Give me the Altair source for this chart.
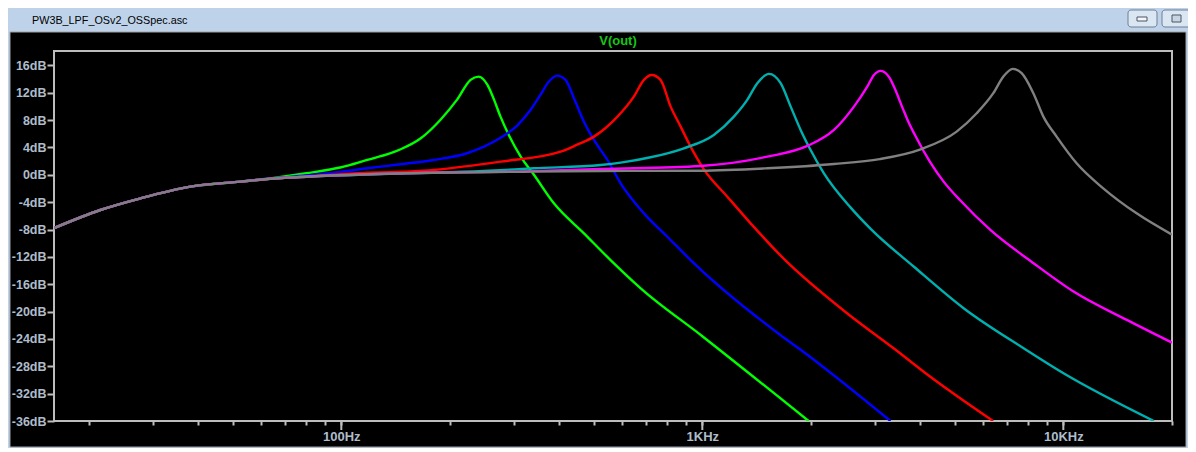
import altair as alt
import pandas as pd

# ---- text ----
WINDOW_TITLE = "PW3B_LPF_OSv2_OSSpec.asc"
PLOT_TITLE = "V(out)"

# ---- axis ticks ----
Y_TICKS = [-36, -32, -28, -24, -20, -16, -12, -8, -4, 0, 4, 8, 12, 16]
X_TICKS = [20, 30, 40, 50, 60, 70, 80, 90,
           100, 200, 300, 400, 500, 600, 700, 800, 900,
           1000, 2000, 3000, 4000, 5000, 6000, 7000, 8000, 9000,
           10000, 20000]
X_MAJOR = [100, 1000, 10000]

# ---- shared low-frequency part (all traces overlap) ----
LOW_F = [16, 21.5, 27.8, 38.2, 52.6]
LOW_DB = [-7.8, -5.15, -3.44, -1.74, -1.0]

# ---- traces (frequency in Hz, level in dB) ----
GREEN_F = [65, 80, 100, 118, 137, 146, 166, 188, 209, 228, 240, 254, 265, 276,
           291, 314, 342, 388, 470, 557, 675, 1000, 1970]
GREEN_DB = [-0.45, 0.22, 1.1, 2.17, 3.15, 3.73, 5.34, 8.02, 10.95, 13.88, 14.36,
            13.15, 10.95, 8.5, 5.83, 2.65, -0.03, -4.17, -8.56, -12.47, -16.6,
            -23.6, -36]

BLUE_F = [65, 80, 100, 118, 146, 180, 223, 276, 307, 334.5, 356, 376, 396, 418,
          441, 470, 501, 546, 594, 689, 800, 928, 1648, 1852, 3320]
BLUE_DB = [-0.5, -0.1, 0.45, 0.95, 1.55, 2.17, 3.15, 5.4, 7.2, 9.5, 11.68,
           13.63, 14.5, 13.88, 11.2, 7.77, 5.09, 2.17, -1.24, -5.64, -9.06,
           -12.47, -23.45, -25.4, -36]

RED_F = [65, 80, 100, 180, 276, 405, 450, 501, 582, 646, 689, 724, 766, 817,
         871, 928, 1010, 1173, 1361, 1683, 2522, 3394, 4290, 6390]
RED_DB = [-0.55, -0.25, 0.1, 0.7, 1.92, 3.38, 4.4, 5.58, 8.5, 11.43, 13.88,
          14.6, 13.88, 9.97, 7.04, 4.11, 0.8, -3.2, -7.1, -12.3, -20.28, -25.4,
          -29.56, -36]

CYAN_F = [65, 80, 150, 248, 342, 523, 594, 719, 889, 1076, 1223, 1332, 1420,
          1530, 1648, 1757, 1872, 1995, 2172, 2576, 2926, 3857, 5305, 7780,
          10040, 17820]
CYAN_DB = [-0.55, -0.28, 0.2, 0.55, 0.95, 1.43, 1.77, 2.56, 3.88, 5.83, 8.5,
           10.95, 13.39, 14.76, 13.39, 9.97, 6.56, 3.63, 0.22, -4.8, -7.9,
           -13.45, -19.55, -25.4, -29.06, -36]

MAGENTA_F = [65, 80, 150, 320, 523, 989, 1514, 1954, 2315, 2630, 2864, 2989,
             3119, 3309, 3394, 3605, 3698, 3924, 4272, 4661, 5171, 6290, 8287,
             10700, 15040, 20000]
MAGENTA_DB = [-0.55, -0.28, 0.22, 0.5, 0.85, 1.29, 2.65, 4.22, 6.56, 9.97, 12.9,
              14.6, 15.2, 14.1, 12.9, 9.49, 8.1, 5.34, 1.9, -1.0, -3.69, -8.1,
              -12.96, -17.11, -21.26, -24.55]

GREY_F = [65, 80, 152, 320, 523, 989, 1514, 2315, 3100, 4025, 5064, 5754, 6398,
          6823, 7238, 7666, 8260, 8805, 9582, 10885, 12900, 15960, 20000]
GREY_DB = [-0.55, -0.28, 0.22, 0.45, 0.56, 0.6, 0.95, 1.58, 2.3, 3.73, 6.31,
           9.0, 11.93, 14.36, 15.49, 14.86, 11.93, 8.5, 5.58, 1.68, -1.98,
           -5.64, -8.75]

TRACE_NAMES = ["t1", "t2", "t3", "t4", "t5", "t6"]
TRACE_COLORS = ["#00ff00", "#0000ff", "#ff0000", "#00b0b0", "#ff00ff", "#808080"]
TRACES = [(GREEN_F, GREEN_DB), (BLUE_F, BLUE_DB), (RED_F, RED_DB),
          (CYAN_F, CYAN_DB), (MAGENTA_F, MAGENTA_DB), (GREY_F, GREY_DB)]

rows = []
for name, (fs, dbs) in zip(TRACE_NAMES, TRACES):
    for f, d in zip(LOW_F + fs, LOW_DB + dbs):
        rows.append({"trace": name, "f": f, "db": d})
df = pd.DataFrame(rows)
major_df = pd.DataFrame({"f": X_MAJOR})
one = pd.DataFrame({"k": [0]})

W, H = 1118, 370
AXIS_GREY = "#bdbdbd"
LABEL_COL = "#aebccb"
FONT = "Liberation Sans"

x_scale = alt.Scale(type="log", domain=[16, 20000], nice=False)
y_scale = alt.Scale(domain=[-36, 18.1], nice=False, zero=False)

x_label_expr = ("datum.value == 100 ? '100Hz' : datum.value == 1000 ? '1KHz' : "
                "datum.value == 10000 ? '10KHz' : ''")

x_axis = alt.Axis(values=X_TICKS, labelExpr=x_label_expr, domain=False,
                  grid=False, tickSize=4, tickWidth=2, tickColor=AXIS_GREY,
                  labelColor=LABEL_COL, labelFont=FONT, labelFontSize=13,
                  labelFontWeight="bold", labelPadding=5, labelOverlap=False,
                  labelFlush=False, zindex=1)
y_axis = alt.Axis(values=Y_TICKS, labelExpr="datum.value + 'dB'", domain=False,
                  grid=False, tickSize=7, tickWidth=2, tickColor=AXIS_GREY,
                  labelColor=LABEL_COL, labelFont=FONT, labelFontSize=12.5,
                  labelFontWeight="bold", labelPadding=1, labelOverlap=False,
                  labelFlush=False, zindex=1)

panel = alt.Chart(one).mark_rect(color="#000000", stroke="#a0a0a0", strokeWidth=1).encode(
    x=alt.value(-44), x2=alt.value(W + 14), y=alt.value(-19), y2=alt.value(H + 26))

win_title = alt.Chart(one).mark_text(
    text=WINDOW_TITLE, align="left", baseline="alphabetic", font=FONT,
    fontSize=10.8, color="#000000").encode(x=alt.value(-22), y=alt.value(-27))

btn1 = alt.Chart(one).mark_rect(color="#dbe6f3", stroke="#6f7f95", strokeWidth=1,
                                cornerRadius=3).encode(
    x=alt.value(W - 44), x2=alt.value(W - 15), y=alt.value(-41), y2=alt.value(-24))
btn1_glyph = alt.Chart(one).mark_rect(color="#f4f6f9", stroke="#4a5566", strokeWidth=1).encode(
    x=alt.value(W - 35), x2=alt.value(W - 25), y=alt.value(-34), y2=alt.value(-30))
btn2 = alt.Chart(one).mark_rect(color="#dbe6f3", stroke="#6f7f95", strokeWidth=1,
                                cornerRadius=3).encode(
    x=alt.value(W - 10), x2=alt.value(W + 20), y=alt.value(-41), y2=alt.value(-24))
btn2_glyph = alt.Chart(one).mark_rect(color="#c8d4e2", stroke="#4a5566", strokeWidth=1).encode(
    x=alt.value(W), x2=alt.value(W + 9), y=alt.value(-36), y2=alt.value(-29))

frame = alt.Chart(one).mark_rect(filled=False, stroke=AXIS_GREY, strokeWidth=2).encode(
    x=alt.value(0), x2=alt.value(W), y=alt.value(0), y2=alt.value(H))

lines = alt.Chart(df).mark_line(strokeWidth=2.4, clip=True, interpolate="monotone").encode(
    x=alt.X("f:Q", scale=x_scale, title="", axis=x_axis),
    y=alt.Y("db:Q", scale=y_scale, title="", axis=y_axis),
    color=alt.Color("trace:N", scale=alt.Scale(domain=TRACE_NAMES, range=TRACE_COLORS),
                    legend=None),
)

major_ticks = alt.Chart(major_df).mark_rule(color=AXIS_GREY, strokeWidth=2).encode(
    x=alt.X("f:Q", scale=x_scale, title="", axis=x_axis),
    y=alt.value(H), y2=alt.value(H + 9))

plot_title = alt.Chart(one).mark_text(
    text=PLOT_TITLE, align="center", baseline="alphabetic", font=FONT, fontSize=13,
    fontWeight="bold", color="#14c814").encode(x=alt.value(W / 2 + 5), y=alt.value(-6))

chart = alt.layer(
    panel, win_title, btn1, btn1_glyph, btn2, btn2_glyph, frame, lines, major_ticks, plot_title
).properties(
    width=W, height=H, background="#bed3ea",
    padding={"left": 46, "top": 43, "right": 16, "bottom": 27},
    autosize=alt.AutoSizeParams(type="none"),
).configure_view(strokeWidth=0)

chart.save("out.html", embed_options={"renderer": "svg", "actions": False})
